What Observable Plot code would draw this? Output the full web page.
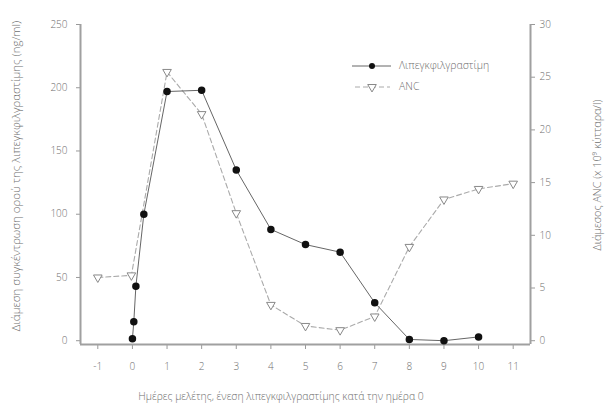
<!DOCTYPE html>
<html><head><meta charset="utf-8">
<script src="https://cdn.jsdelivr.net/npm/d3@7"></script>
<script src="https://cdn.jsdelivr.net/npm/@observablehq/plot@0.6"></script>
<style>
body{margin:0;background:#fff;}
#wrap{position:relative;width:611px;height:409px;font-family:"Open Sans",sans-serif;}
</style></head><body><div id="wrap"></div>
<script>
const lipegDays=[0,0.04,0.1,0.33,1,2,3,4,5,6,7,8,9,10];
const lipegConc=[1.5,15,43,100,197,198,135,88,76,70,30,1,0,3];
const ancDays=[-1,-0.03,1,2,3,4,5,6,7,8,9,10,11];
const ancValues=[6.0,6.2,25.5,21.5,12.1,3.4,1.4,1.0,2.3,8.9,13.4,14.4,14.9];
const xTicks=[-1,0,1,2,3,4,5,6,7,8,9,10,11];
const leftTicks=[0,50,100,150,200,250];
const rightTicks=[0,5,10,15,20,25,30];
const seriesNames=["Λιπεγκφιλγραστίμη","ANC"];
const xLabel="Ημέρες μελέτης, ένεση λιπεγκφιλγραστίμης κατά την ημέρα 0";
const yLeftLabel="Διάμεση συγκέντρωση ορού της λιπεγκφιλγραστίμης (ng/ml)";
const yRightLabel="Διάμεσος ANC (x 10⁹ κύτταρα/l)";

const k=250/30;
const lipeg=lipegDays.map((d,i)=>({x:d,y:lipegConc[i]}));
const anc=ancDays.map((d,i)=>({x:d,y:ancValues[i]*k}));
const xMin=-1.5,xMax=11.5,yMin=-3,yMax=250;
const axisColor="#a0a0a0", textColor="#6e6e6e";

const chart=Plot.plot({
  width:611,height:409,
  marginLeft:80,marginRight:81,marginTop:24,marginBottom:65,
  x:{domain:[xMin,xMax]},
  y:{domain:[yMin,yMax]},
  style:{fontFamily:"'Open Sans',sans-serif",fontSize:"10px",fontWeight:300,color:textColor,background:"#fff"},
  marks:[
    Plot.axisX({ticks:xTicks,tickSize:5,tickPadding:13,label:null,stroke:"#999",tickFormat:d=>String(d)}),
    Plot.axisY({anchor:"left",ticks:leftTicks,tickSize:4,tickPadding:9,label:null,stroke:"#999"}),
    Plot.axisY({anchor:"right",ticks:rightTicks.map(v=>v*k),tickFormat:d=>String(Math.round(d/k)),tickSize:4,tickPadding:5,label:null,stroke:"#999"}),
    Plot.ruleY([yMin],{stroke:axisColor,strokeWidth:2}),
    Plot.ruleX([xMin],{y1:yMin,y2:yMax,stroke:axisColor,strokeWidth:2}),
    Plot.ruleX([xMax],{y1:yMin,y2:yMax,stroke:axisColor,strokeWidth:2}),
    Plot.line(anc,{x:"x",y:"y",stroke:"#aaa",strokeWidth:1.1,strokeDasharray:"5,3"}),
    Plot.line(lipeg,{x:"x",y:"y",stroke:"#666",strokeWidth:1}),
    Plot.dot(anc,{x:"x",y:"y",symbol:"triangle",rotate:180,r:3.2,stroke:"#888",fill:"#fff",strokeWidth:1}),
    Plot.dot(lipeg,{x:"x",y:"y",r:3,fill:"#111",stroke:"#111"})
  ]
});
document.getElementById("wrap").appendChild(chart);
const svg=d3.select(chart);
const tf="'Open Sans',sans-serif";
function addText(sel){return sel.attr("font-family",tf).attr("font-weight",300).attr("fill",textColor).attr("dominant-baseline","middle");}
addText(svg.append("text")).attr("transform","translate(17,176) rotate(-90)").attr("text-anchor","middle").attr("font-size",11.5).text(yLeftLabel);
addText(svg.append("text")).attr("transform","translate(598,175) rotate(-90)").attr("text-anchor","middle").attr("font-size",10.8).text(yRightLabel);
addText(svg.append("text")).attr("x",281).attr("y",397).attr("text-anchor","middle").attr("font-size",10.4).text(xLabel);
// legend
const lg=svg.append("g");
lg.append("line").attr("x1",352).attr("x2",391).attr("y1",66).attr("y2",66).attr("stroke","#666");
lg.append("circle").attr("cx",372).attr("cy",66).attr("r",3).attr("fill","#111");
addText(lg.append("text")).attr("x",399).attr("y",66).attr("text-anchor","start").attr("font-size",10.5).text(seriesNames[0]);
lg.append("line").attr("x1",355).attr("x2",390).attr("y1",87).attr("y2",87).attr("stroke","#aaa").attr("stroke-dasharray","5,3");
lg.append("path").attr("d",d3.symbol(d3.symbolTriangle,32)()).attr("transform","translate(372,87) rotate(180)").attr("fill","#fff").attr("stroke","#888");
addText(lg.append("text")).attr("x",399).attr("y",87).attr("text-anchor","start").attr("font-size",10.5).text(seriesNames[1]);
</script></body></html>
